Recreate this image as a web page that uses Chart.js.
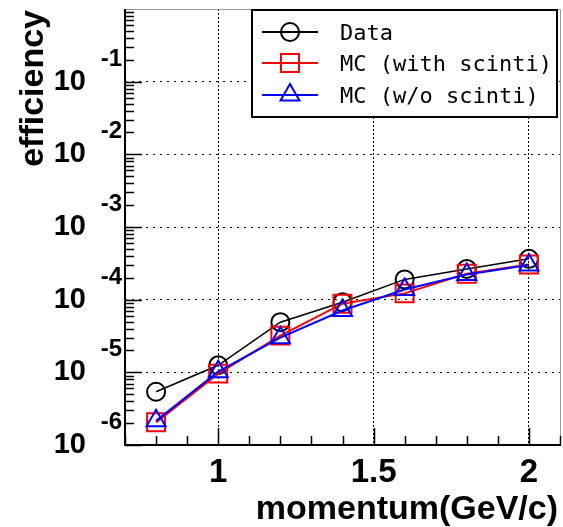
<!DOCTYPE html>
<html>
<head>
<meta charset="utf-8">
<script src="https://cdn.jsdelivr.net/npm/chart.js@4.4.0/dist/chart.umd.min.js"></script>
<style>
  html, body { margin: 0; padding: 0; background: #fff; }
  #wrap { width: 563px; height: 527px; }
</style>
</head>
<body>
<div id="wrap"><canvas id="myChart" width="563" height="527"></canvas></div>
<script>
// values
const momentum = [0.8, 1.0, 1.2, 1.4, 1.6, 1.8, 2.0];
const effData = [5.4e-6, 1.25e-5, 4.9e-5, 9.2e-5, 1.9e-4, 2.65e-4, 3.65e-4];
const effMcWith = [2.05e-6, 9.6e-6, 3.2e-5, 8.8e-5, 1.22e-4, 2.28e-4, 3.05e-4];
const effMcWithout = [2.15e-6, 1.02e-5, 3.0e-5, 7.1e-5, 1.38e-4, 2.22e-4, 3.0e-4];
const seriesNames = ["Data", "MC (with scinti)", "MC (w/o scinti)"];

const xTicks = [1, 1.5, 2];
const xTickLabels = ["1", "1.5", "2"];
const yDecades = [1e-1, 1e-2, 1e-3, 1e-4, 1e-5, 1e-6];
const yExponents = ["-1", "-2", "-3", "-4", "-5", "-6"];

const xTitle = "momentum(GeV/c)";
const yTitle = "efficiency";

const toPoints = (ys) => momentum.map((x, i) => ({ x: x, y: ys[i] }));

const BOLD = '"Liberation Sans", Arial, Helvetica, sans-serif';

// draw one marker like ROOT open markers
function drawMarker(ctx, style, x, y, color) {
  ctx.save();
  ctx.strokeStyle = color;
  ctx.lineWidth = 2;
  ctx.beginPath();
  if (style === "circle") {
    ctx.arc(x, y, 9, 0, Math.PI * 2);
  } else if (style === "rect") {
    ctx.rect(x - 9, y - 9, 18, 18);
  } else {
    ctx.moveTo(x, y - 11);
    ctx.lineTo(x + 9.5, y + 5.5);
    ctx.lineTo(x - 9.5, y + 5.5);
    ctx.closePath();
  }
  ctx.stroke();
  ctx.restore();
}

const rootFrame = {
  id: "rootFrame",
  afterDraw(chart) {
    const ctx = chart.ctx;
    const a = chart.chartArea;
    const xs = chart.scales.x;
    const ys = chart.scales.y;

    ctx.save();

    // top and right frame
    ctx.strokeStyle = "#999";
    ctx.lineWidth = 1;
    ctx.beginPath();
    ctx.moveTo(a.left, a.top + 0.5);
    ctx.lineTo(a.right + 0.5, a.top + 0.5);
    ctx.lineTo(a.right + 0.5, a.bottom);
    ctx.stroke();

    // ticks, pointing inwards
    ctx.strokeStyle = "#000";
    ctx.lineWidth = 1.5;
    ctx.beginPath();
    for (let i = 7; i <= 21; i++) {
      const v = i / 10;
      const px = Math.round(xs.getPixelForValue(v)) + 0.5;
      const major = i % 5 === 0;
      ctx.moveTo(px, a.bottom);
      ctx.lineTo(px, a.bottom - (major ? 17 : 9));
    }
    for (let e = -6; e < 0; e++) {
      for (let k = 1; k <= 9; k++) {
        const v = k * Math.pow(10, e);
        const py = Math.round(ys.getPixelForValue(v)) + 0.5;
        ctx.moveTo(a.left, py);
        ctx.lineTo(a.left + (k === 1 ? 17 : 9), py);
      }
    }
    ctx.stroke();

    // left and bottom axis
    ctx.lineWidth = 2;
    ctx.beginPath();
    ctx.moveTo(a.left, a.top);
    ctx.lineTo(a.left, a.bottom);
    ctx.lineTo(a.right + 1, a.bottom);
    ctx.stroke();

    // tick labels
    ctx.fillStyle = "#000";
    ctx.textBaseline = "alphabetic";
    ctx.textAlign = "center";
    ctx.font = "bold 33px " + BOLD;
    xTicks.forEach((v, i) => {
      ctx.fillText(xTickLabels[i], xs.getPixelForValue(v), 482);
    });

    yDecades.forEach((v, i) => {
      const py = ys.getPixelForValue(v);
      ctx.textAlign = "right";
      ctx.font = "bold 29px " + BOLD;
      ctx.fillText("10", 86, py + 8);
      ctx.font = "bold 24px " + BOLD;
      ctx.fillText(yExponents[i], 122, py - 16);
    });

    // axis titles
    ctx.font = "bold 34px " + BOLD;
    ctx.textAlign = "right";
    ctx.fillText(xTitle, 558, 519);
    ctx.save();
    ctx.translate(43, 10);
    ctx.rotate(-Math.PI / 2);
    ctx.fillText(yTitle, 0, 0);
    ctx.restore();

    // legend box
    const lx = 252, ly = 10, lw = 305, lh = 107;
    ctx.fillStyle = "#fff";
    ctx.fillRect(lx, ly, lw, lh);
    ctx.strokeStyle = "#000";
    ctx.lineWidth = 2;
    ctx.strokeRect(lx, ly, lw, lh);

    const rows = [32, 63, 95];
    chart.data.datasets.forEach((ds, i) => {
      const ry = rows[i];
      ctx.strokeStyle = ds.borderColor;
      ctx.lineWidth = 2;
      ctx.beginPath();
      ctx.moveTo(262, ry);
      ctx.lineTo(318, ry);
      ctx.stroke();
      drawMarker(ctx, ds.pointStyle, 290, ry, ds.borderColor);
      ctx.fillStyle = "#000";
      ctx.textAlign = "left";
      ctx.font = '22px "DejaVu Sans Mono", "Liberation Mono", monospace';
      ctx.fillText(ds.label, 340, ry + 8);
    });

    ctx.restore();
  }
};

const ctx = document.getElementById("myChart");

const myChart = new Chart(ctx, {
  type: "line",
  data: {
    datasets: [
      {
        label: seriesNames[0],
        data: toPoints(effData),
        borderColor: "#000000",
        borderWidth: 1.5,
        pointStyle: "circle",
        pointRadius: 9,
        pointBorderWidth: 2,
        pointBackgroundColor: "rgba(0,0,0,0)",
        order: 2
      },
      {
        label: seriesNames[1],
        data: toPoints(effMcWith),
        borderColor: "#ff0000",
        borderWidth: 2,
        pointStyle: "rect",
        pointRadius: 12.7,
        pointBorderWidth: 2,
        pointBackgroundColor: "rgba(0,0,0,0)",
        order: 1
      },
      {
        label: seriesNames[2],
        data: toPoints(effMcWithout),
        borderColor: "#0000ff",
        borderWidth: 2,
        pointStyle: "triangle",
        pointRadius: 11,
        pointBorderWidth: 2,
        pointBackgroundColor: "rgba(0,0,0,0)",
        order: 0
      }
    ]
  },
  options: {
    responsive: false,
    animation: false,
    layout: { autoPadding: false, padding: { left: 125, top: 9, right: 3, bottom: 82 } },
    plugins: {
      legend: { display: false },
      tooltip: { enabled: false }
    },
    scales: {
      x: {
        type: "linear",
        min: 0.7,
        max: 2.1,
        afterBuildTicks: (s) => { s.ticks = xTicks.map((v) => ({ value: v })); },
        ticks: { display: false },
        grid: { drawTicks: false, color: "#000", lineWidth: 1 },
        border: { display: false, dash: [2, 2] }
      },
      y: {
        type: "logarithmic",
        min: 1e-6,
        max: 1,
        afterBuildTicks: (s) => { s.ticks = yDecades.map((v) => ({ value: v })); },
        ticks: { display: false },
        grid: { drawTicks: false, color: "#000", lineWidth: 1 },
        border: { display: false, dash: [2, 5] }
      }
    }
  },
  plugins: [rootFrame]
});
</script>
</body>
</html>
